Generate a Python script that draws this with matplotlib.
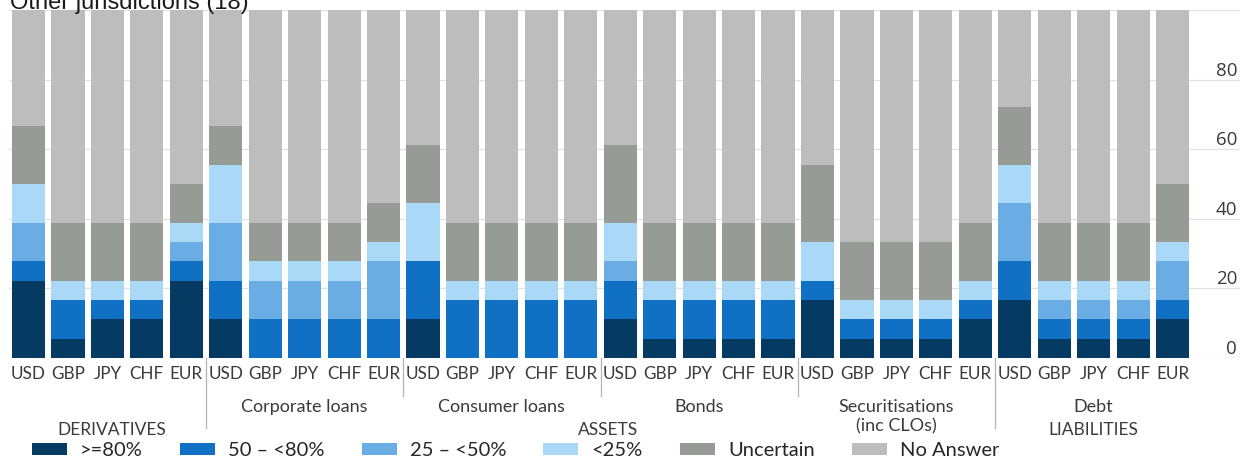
import numpy as np
import matplotlib
matplotlib.use("Agg")
import matplotlib.pyplot as plt
from matplotlib.patches import Patch
import matplotlib.transforms as mtransforms

# respondents per bar, counted by answer band (18 firms in total)
n_firms = 18
currencies = ["USD", "GBP", "JPY", "CHF", "EUR"]
products = ["", "Corporate loans", "Consumer loans", "Bonds",
            "Securitisations\n(inc CLOs)", "Debt"]
classes = ["DERIVATIVES", "ASSETS", "LIABILITIES"]

ge80 = [4, 1, 2, 2, 4,  2, 0, 0, 0, 0,  2, 0, 0, 0, 0,
        2, 1, 1, 1, 1,  3, 1, 1, 1, 2,  3, 1, 1, 1, 2]
b50_80 = [1, 2, 1, 1, 1,  2, 2, 2, 2, 2,  3, 3, 3, 3, 3,
          2, 2, 2, 2, 2,  1, 1, 1, 1, 1,  2, 1, 1, 1, 1]
b25_50 = [2, 0, 0, 0, 1,  3, 2, 2, 2, 3,  0, 0, 0, 0, 0,
          1, 0, 0, 0, 0,  0, 0, 0, 0, 0,  3, 1, 1, 1, 2]
lt25 = [2, 1, 1, 1, 1,  3, 1, 1, 1, 1,  3, 1, 1, 1, 1,
        2, 1, 1, 1, 1,  2, 1, 1, 1, 1,  2, 1, 1, 1, 1]
uncertain = [3, 3, 3, 3, 2,  2, 2, 2, 2, 2,  3, 3, 3, 3, 3,
             4, 3, 3, 3, 3,  4, 3, 3, 3, 3,  3, 3, 3, 3, 3]
no_answer = [6, 11, 11, 11, 9,  6, 11, 11, 11, 10,  7, 11, 11, 11, 11,
             7, 11, 11, 11, 11,  8, 12, 12, 12, 11,  5, 11, 11, 11, 9]

series = [
    (">=80%", ge80, "#053a63"),
    ("50 \u2013 <80%", b50_80, "#0f70c4"),
    ("25 \u2013 <50%", b25_50, "#6aade4"),
    ("<25%", lt25, "#aad8f7"),
    ("Uncertain", uncertain, "#979b95"),
    ("No Answer", no_answer, "#bdbdbd"),
]

fig = plt.figure(figsize=(12.4, 4.59), dpi=100)
ax = fig.add_axes([8.8 / 1240, 101 / 459, 1 - 8.8 / 1240, 348 / 459])

x = np.arange(30)
bottom = np.zeros(30)
for name, vals, col in series:
    pct = np.array(vals) / n_firms * 100
    ax.bar(x, pct, width=0.84, bottom=bottom, color=col, zorder=2, label=name)
    bottom += pct

ax.set_xlim(-0.5, 30.71)
ax.set_ylim(0, 100)
for s in ax.spines.values():
    s.set_visible(False)

# y axis on the right, labels sit just above their gridline
ax.set_yticks([0, 20, 40, 60, 80, 100])
ax.set_yticklabels(["0", "20", "40", "60", "80", ""])
ax.yaxis.tick_right()
ax.tick_params(axis="y", length=0, pad=-2, labelsize=13.5, labelcolor="#3a3a3a")
for lab in ax.get_yticklabels():
    lab.set_horizontalalignment("right")
    lab.set_verticalalignment("bottom")
    lab.set_fontfamily("Open Sans")
ax.grid(axis="y", color="#e2e2e2", linewidth=0.9, zorder=0)

ax.set_xticks(x)
ax.set_xticklabels(currencies * 6, fontfamily="Lato", fontsize=12.3, color="#3a3a3a")
ax.tick_params(axis="x", length=0, pad=6)

trans = mtransforms.blended_transform_factory(ax.transData, ax.transAxes)

# product names under each block of five currencies
for i, p in enumerate(products):
    if not p:
        continue
    ax.text(i * 5 + 2, -0.118, p, transform=trans, ha="center", va="top",
            fontfamily="Lato", fontsize=13, color="#3a3a3a", linespacing=1.25)

# asset class names
class_pos = [2.1, 14.7, 27]
for c, xp in zip(classes, class_pos):
    ax.text(xp, -0.207, c, transform=trans, ha="center", va="center",
            fontfamily="Lato", fontsize=12.5, color="#3a3a3a")

# separators between product blocks
for xs in [4.5, 9.5, 14.5, 19.5, 24.5]:
    depth = -0.201 if xs in (4.5, 24.5) else -0.109
    ax.plot([xs, xs], [0, depth], transform=trans, color="#b4b4b4",
            linewidth=0.9, clip_on=False)

fig.text(10 / 1240, 1 - 8.5 / 459, "Other jurisdictions (18)", ha="left",
         va="baseline", fontfamily="Liberation Sans", fontsize=17, color="#1a1a1a")

handles = [Patch(facecolor=col, edgecolor="none") for _, _, col in series]
labels = [name for name, _, _ in series]
fig.legend(handles, labels, ncol=6, loc="center left",
           bbox_to_anchor=(32 / 1240, 8.5 / 459), frameon=False,
           prop={"family": "Lato", "size": 14.5}, labelcolor="#262626",
           borderpad=0, borderaxespad=0, handlelength=1.74, handleheight=0.6,
           handletextpad=0.65, columnspacing=1.84)

fig.savefig("out.png", dpi=100)
